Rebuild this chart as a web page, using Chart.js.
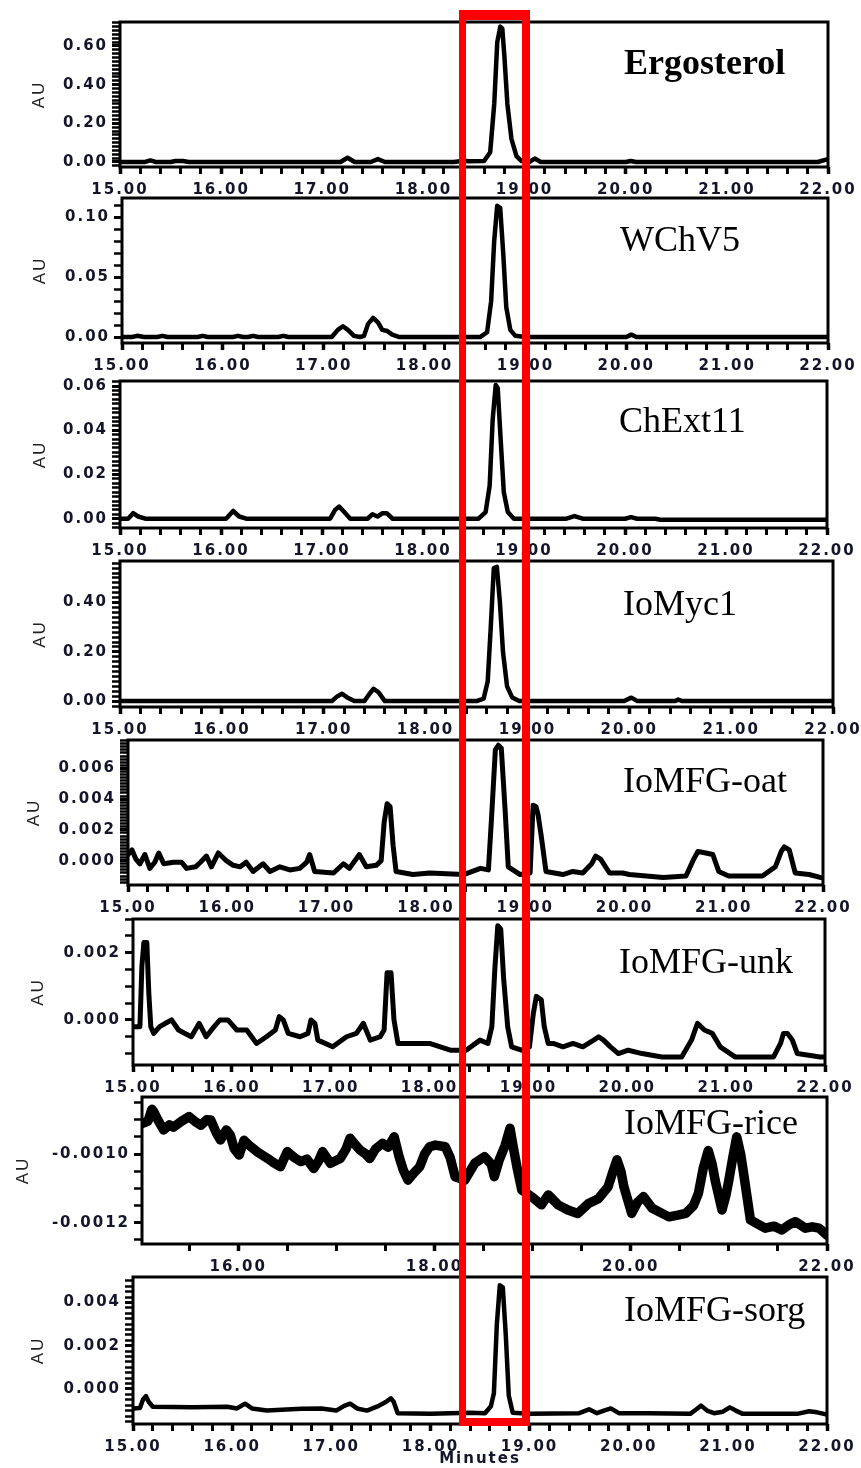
<!DOCTYPE html>
<html>
<head>
<meta charset="utf-8">
<script src="https://cdn.jsdelivr.net/npm/chart.js@4.4.1/dist/chart.umd.min.js"></script>
<style>
body { margin: 0; background: #fff; }
#wrap { position: relative; width: 861px; height: 1468px; overflow: hidden; background: #fff; }
#wrap canvas { position: absolute; left: 0; }
#box { position: absolute; left: 459px; top: 10px; width: 71px; height: 1416px; box-sizing: border-box;
  border: 8px solid #ff0000; border-top-width: 10px; border-left-width: 7px; z-index: 5; }
</style>
</head>
<body>
<div id="wrap"><div id="box"></div></div>
<script>
// retention time (min) / absorbance (AU)
const ergoT = [15.00, 15.25, 15.30, 15.35, 15.50, 15.55, 15.62, 15.68, 17.18, 17.25, 17.32, 17.48, 17.55, 17.62, 18.30, 18.40, 18.45, 18.60, 18.66, 18.70, 18.73, 18.76, 18.78, 18.80, 18.83, 18.87, 18.92, 18.97, 19.05, 19.10, 19.16, 19.25, 20.00, 20.05, 20.10, 21.90, 21.98, 22.00];
const ergoV = [0.000, 0.000, 0.008, 0.000, 0.000, 0.005, 0.005, 0.000, 0.000, 0.022, 0.000, 0.000, 0.015, 0.000, 0.000, 0.006, 0.004, 0.005, 0.05, 0.30, 0.62, 0.70, 0.69, 0.55, 0.30, 0.12, 0.03, 0.005, 0.000, 0.018, 0.000, 0.000, 0.000, 0.005, 0.000, 0.000, 0.012, 0.015];

const wchT = [15.00, 15.10, 15.15, 15.22, 15.35, 15.40, 15.45, 15.75, 15.80, 15.85, 16.10, 16.15, 16.20, 16.25, 16.30, 16.35, 16.55, 16.60, 16.65, 17.08, 17.14, 17.19, 17.24, 17.30, 17.36, 17.40, 17.44, 17.49, 17.54, 17.58, 17.63, 17.68, 17.75, 18.55, 18.62, 18.66, 18.69, 18.72, 18.75, 18.78, 18.81, 18.85, 18.90, 19.00, 20.00, 20.05, 20.10, 22.00];
const wchV = [0.000, 0.000, 0.001, 0.000, 0.000, 0.001, 0.000, 0.000, 0.001, 0.000, 0.000, 0.001, 0.000, 0.000, 0.001, 0.000, 0.000, 0.001, 0.000, 0.000, 0.006, 0.009, 0.006, 0.001, 0.000, 0.001, 0.011, 0.016, 0.012, 0.006, 0.005, 0.002, 0.000, 0.000, 0.004, 0.03, 0.08, 0.110, 0.108, 0.07, 0.025, 0.006, 0.001, 0.000, 0.000, 0.002, 0.000, 0.000];

const chextT = [15.00, 15.08, 15.13, 15.18, 15.25, 15.45, 15.90, 16.05, 16.12, 16.18, 16.25, 16.60, 16.70, 17.08, 17.13, 17.17, 17.22, 17.28, 17.45, 17.50, 17.55, 17.60, 17.64, 17.70, 18.55, 18.62, 18.66, 18.69, 18.72, 18.74, 18.77, 18.80, 18.84, 18.90, 19.00, 19.42, 19.50, 19.58, 20.00, 20.06, 20.12, 20.30, 20.35, 22.00];
const chextV = [0.000, 0.000, 0.0025, 0.001, 0.000, 0.000, 0.000, 0.000, 0.0035, 0.001, 0.000, 0.000, 0.000, 0.000, 0.004, 0.0055, 0.003, 0.000, 0.000, 0.002, 0.001, 0.0025, 0.0025, 0.000, 0.000, 0.003, 0.015, 0.045, 0.0605, 0.059, 0.035, 0.012, 0.003, 0.000, 0.000, 0.000, 0.0012, 0.000, 0.000, 0.0007, 0.000, 0.000, -0.0005, -0.0005];

const mycT = [15.00, 17.08, 17.13, 17.18, 17.23, 17.30, 17.40, 17.45, 17.49, 17.54, 17.60, 18.50, 18.57, 18.61, 18.64, 18.67, 18.70, 18.73, 18.76, 18.80, 18.85, 18.92, 19.95, 20.02, 20.08, 20.45, 20.48, 20.52, 22.00];
const mycV = [0.000, 0.000, 0.018, 0.030, 0.015, 0.000, 0.000, 0.030, 0.050, 0.035, 0.000, 0.000, 0.010, 0.080, 0.300, 0.540, 0.545, 0.40, 0.20, 0.06, 0.015, 0.000, 0.000, 0.014, 0.000, 0.000, 0.006, 0.000, 0.000];

const oatT = [15.00, 15.04, 15.08, 15.12, 15.17, 15.22, 15.27, 15.31, 15.36, 15.46, 15.54, 15.59, 15.68, 15.73, 15.79, 15.84, 15.91, 15.99, 16.06, 16.13, 16.19, 16.26, 16.36, 16.43, 16.53, 16.63, 16.73, 16.80, 16.83, 16.88, 17.07, 17.17, 17.23, 17.33, 17.40, 17.50, 17.55, 17.58, 17.61, 17.64, 17.67, 17.70, 17.87, 18.04, 18.38, 18.55, 18.63, 18.66, 18.70, 18.73, 18.76, 18.80, 18.83, 18.95, 19.05, 19.08, 19.11, 19.13, 19.16, 19.21, 19.38, 19.48, 19.58, 19.67, 19.71, 19.76, 19.85, 19.98, 20.05, 20.39, 20.62, 20.69, 20.74, 20.82, 20.89, 20.95, 21.05, 21.39, 21.52, 21.58, 21.61, 21.66, 21.72, 21.86, 21.98];
const oatV = [0.0004, 0.0007, 0.0001, -0.0002, 0.0004, -0.0005, -0.0001, 0.0005, -0.0002, -0.0001, -0.0001, -0.0005, -0.0004, -0.0001, 0.0003, -0.0004, 0.0005, 0.0000, -0.0003, -0.0004, -0.0001, -0.0007, -0.0002, -0.0007, -0.0004, -0.0006, -0.0005, -0.0001, 0.0004, -0.0007, -0.0008, -0.0002, -0.0005, 0.0004, -0.0004, -0.0003, 0.0000, 0.0025, 0.0037, 0.0035, 0.0010, -0.0007, -0.0009, -0.0008, -0.0009, -0.0005, -0.0006, 0.0026, 0.0072, 0.0075, 0.0073, 0.0031, -0.0004, -0.0009, -0.0008, 0.0036, 0.0035, 0.0030, 0.0017, -0.0007, -0.0009, -0.0007, -0.0008, -0.0002, 0.0003, 0.0001, -0.0008, -0.0008, -0.0009, -0.0011, -0.0010, 0.0000, 0.0006, 0.0005, 0.0004, -0.0007, -0.0010, -0.0010, -0.0004, 0.0006, 0.0009, 0.0007, -0.0008, -0.0009, -0.0011];

const unkT = [15.00, 15.07, 15.09, 15.11, 15.14, 15.16, 15.18, 15.21, 15.27, 15.33, 15.39, 15.46, 15.59, 15.67, 15.74, 15.82, 15.88, 15.96, 16.05, 16.15, 16.25, 16.35, 16.44, 16.48, 16.52, 16.57, 16.69, 16.77, 16.80, 16.84, 16.87, 17.02, 17.16, 17.26, 17.33, 17.40, 17.50, 17.54, 17.57, 17.61, 17.64, 17.68, 17.83, 18.00, 18.21, 18.37, 18.51, 18.59, 18.63, 18.66, 18.69, 18.72, 18.75, 18.79, 18.83, 18.93, 19.01, 19.05, 19.08, 19.13, 19.16, 19.20, 19.25, 19.35, 19.45, 19.55, 19.66, 19.71, 19.76, 19.83, 19.91, 20.01, 20.15, 20.35, 20.55, 20.65, 20.71, 20.78, 20.86, 20.94, 21.09, 21.48, 21.55, 21.58, 21.62, 21.67, 21.72, 21.95, 22.00];
const unkV = [-0.0002, -0.0002, 0.0016, 0.0023, 0.0023, 0.0008, -0.0002, -0.0004, -0.0002, -0.0001, 0.0000, -0.0003, -0.0005, -0.0001, -0.0005, -0.0002, 0.0000, 0.0000, -0.0003, -0.0003, -0.0007, -0.0005, -0.0003, 0.0001, 0.0000, -0.0004, -0.0005, -0.0004, 0.0000, -0.0001, -0.0006, -0.0008, -0.0005, -0.0004, -0.0001, -0.0006, -0.0005, -0.0003, 0.0014, 0.0014, 0.0000, -0.0007, -0.0007, -0.0007, -0.0009, -0.0009, -0.0006, -0.0007, -0.0002, 0.0015, 0.0028, 0.0027, 0.0012, -0.0002, -0.0008, -0.0009, -0.0008, 0.0002, 0.0007, 0.0006, -0.0002, -0.0007, -0.0007, -0.0008, -0.0007, -0.0008, -0.0006, -0.0005, -0.0006, -0.0008, -0.0010, -0.0009, -0.0010, -0.0011, -0.0011, -0.0006, -0.0001, -0.0003, -0.0004, -0.0008, -0.0011, -0.0011, -0.0007, -0.0004, -0.0004, -0.0006, -0.0010, -0.0011, -0.0011];

const riceT = [15.02, 15.08, 15.12, 15.14, 15.18, 15.24, 15.30, 15.34, 15.42, 15.50, 15.56, 15.62, 15.68, 15.72, 15.78, 15.82, 15.88, 15.92, 15.96, 16.01, 16.06, 16.11, 16.20, 16.30, 16.36, 16.43, 16.50, 16.57, 16.64, 16.70, 16.77, 16.82, 16.86, 16.94, 17.04, 17.10, 17.14, 17.20, 17.24, 17.30, 17.34, 17.40, 17.47, 17.53, 17.59, 17.64, 17.68, 17.73, 17.79, 17.85, 17.90, 17.95, 18.01, 18.11, 18.16, 18.21, 18.31, 18.41, 18.51, 18.58, 18.61, 18.66, 18.72, 18.77, 18.80, 18.84, 18.89, 18.99, 19.09, 19.16, 19.26, 19.36, 19.46, 19.57, 19.67, 19.77, 19.82, 19.86, 19.90, 19.93, 20.01, 20.07, 20.13, 20.22, 20.30, 20.39, 20.48, 20.56, 20.64, 20.69, 20.74, 20.79, 20.83, 20.86, 20.93, 20.97, 21.00, 21.04, 21.08, 21.12, 21.15, 21.22, 21.30, 21.37, 21.46, 21.54, 21.62, 21.68, 21.78, 21.85, 21.92, 22.00];
const riceV = [-0.000911, -0.000905, -0.000870, -0.000877, -0.000900, -0.000930, -0.000915, -0.000922, -0.000905, -0.000891, -0.000905, -0.000916, -0.000900, -0.000901, -0.000940, -0.000959, -0.000930, -0.000945, -0.000985, -0.001003, -0.000960, -0.000974, -0.000995, -0.001013, -0.001025, -0.001037, -0.000993, -0.001010, -0.001022, -0.001015, -0.001042, -0.001020, -0.000993, -0.001027, -0.001013, -0.000985, -0.000954, -0.000975, -0.000988, -0.001000, -0.001013, -0.000985, -0.000969, -0.000980, -0.000950, -0.001008, -0.001045, -0.001076, -0.001055, -0.001037, -0.001000, -0.000979, -0.000974, -0.000979, -0.001010, -0.001066, -0.001076, -0.001027, -0.001008, -0.001030, -0.001066, -0.001017, -0.000975, -0.000925, -0.000975, -0.001037, -0.001105, -0.001124, -0.001148, -0.001119, -0.001148, -0.001163, -0.001173, -0.001144, -0.001130, -0.001095, -0.001050, -0.001017, -0.001050, -0.001095, -0.001173, -0.001140, -0.001124, -0.001158, -0.001170, -0.001183, -0.001178, -0.001173, -0.001150, -0.001114, -0.001040, -0.000990, -0.001030, -0.001076, -0.001163, -0.001120, -0.001076, -0.001010, -0.000950, -0.001000, -0.001056, -0.001192, -0.001205, -0.001216, -0.001210, -0.001221, -0.001205, -0.001197, -0.001216, -0.001212, -0.001216, -0.001236];

const sorgT = [15.00, 15.07, 15.10, 15.13, 15.16, 15.20, 15.60, 15.95, 16.05, 16.13, 16.20, 16.35, 16.70, 16.90, 17.05, 17.13, 17.19, 17.26, 17.36, 17.46, 17.55, 17.60, 17.63, 17.67, 18.00, 18.40, 18.55, 18.61, 18.64, 18.67, 18.70, 18.73, 18.76, 18.79, 18.83, 19.00, 19.50, 19.60, 19.68, 19.75, 19.82, 19.90, 20.20, 20.62, 20.68, 20.73, 20.79, 20.86, 20.95, 21.02, 21.08, 21.15, 21.70, 21.82, 21.90, 22.00];
const sorgV = [-0.00090, -0.00088, -0.00050, -0.00033, -0.00060, -0.00082, -0.00085, -0.00082, -0.00090, -0.00068, -0.00090, -0.00100, -0.00092, -0.00090, -0.00100, -0.00078, -0.00068, -0.00090, -0.00100, -0.00082, -0.00060, -0.00043, -0.00060, -0.00112, -0.00115, -0.00110, -0.00112, -0.00080, -0.00020, 0.00300, 0.00480, 0.00470, 0.00250, -0.00030, -0.00110, -0.00115, -0.00112, -0.00094, -0.00112, -0.00100, -0.00090, -0.00112, -0.00112, -0.00115, -0.00095, -0.00077, -0.00100, -0.00112, -0.00105, -0.00085, -0.00100, -0.00115, -0.00115, -0.00103, -0.00108, -0.00118];

// layout: frame [left, top, right, bottom] in page px, y [min, max, step, major, decimals], x [min, max, step, major]
const panels = [
  { name: 'Ergosterol', bold: true, t: ergoT, v: ergoV, frame: [120, 22, 828, 167], y: [-0.026, 0.724, 0.02, 0.2, 2], x: [15, 22, 0.2, 1], au: 39, at: [624, 74], lw: 4.5 },
  { name: 'WChV5', t: wchT, v: wchV, frame: [122, 198, 828, 343], y: [-0.005, 0.1164, 0.01, 0.05, 2], x: [15, 22, 0.2, 1], au: 40, at: [620, 251], lw: 4.5 },
  { name: 'ChExt11', t: chextT, v: chextV, frame: [120, 381, 827, 528], y: [-0.0042, 0.0623, 0.002, 0.02, 2], x: [15, 22, 0.2, 1], au: 40, at: [619, 432], lw: 4.5 },
  { name: 'IoMyc1', t: mycT, v: mycV, frame: [120, 561, 833, 707], y: [-0.024, 0.569, 0.02, 0.2, 2], x: [15, 22, 0.2, 1], au: 40, at: [623, 615], lw: 4.5 },
  { name: 'IoMFG-oat', t: oatT, v: oatV, frame: [128, 740, 823, 885], y: [-0.00158, 0.00784, 0.0002, 0.002, 3], x: [15, 22, 0.2, 1], au: 34, at: [623, 792], lw: 5 },
  { name: 'IoMFG-unk', t: unkT, v: unkV, frame: [133, 919, 825, 1065], y: [-0.00134, 0.0030, 0.0005, 0.002, 3], x: [15, 22, 0.2, 1], au: 38, at: [619, 973], lw: 5 },
  { name: 'IoMFG-rice', t: riceT, v: riceV, frame: [142, 1097, 827, 1244], y: [-0.001262, -0.000834, 0.00005, 0.0002, 4], x: [15.02, 22, 0.5, 2], au: 23, at: [624, 1134], lw: 9.5 },
  { name: 'IoMFG-sorg', t: sorgT, v: sorgV, frame: [133, 1277, 827, 1424], y: [-0.00162, 0.00518, 0.00025, 0.002, 3], x: [15, 22, 0.2, 1], au: 38, at: [624, 1321], lw: 4.5, last: true }
];

const inkColor = '#14142a';
const tickFont = { family: 'DejaVu Sans', size: 15, weight: 'bold', lineHeight: 1.2 };

const isMajor = (v, major) => {
  const r = v / major;
  return Math.abs(r - Math.round(r)) < 1e-6;
};
const fmt = (major, dec) => function (v) {
  if (!isMajor(v, major)) return '';
  return (Math.abs(v) < 1e-12 ? 0 : v).toFixed(dec);
};

const spacing = {
  id: 'spacing',
  beforeLayout(c) { c.ctx.letterSpacing = '2px'; },
  beforeDraw(c) { c.ctx.letterSpacing = '2px'; }
};
const frame = {
  id: 'frame',
  afterDatasetsDraw(c) {
    const a = c.chartArea, ctx = c.ctx;
    ctx.save();
    ctx.strokeStyle = '#000';
    ctx.lineWidth = 3;
    ctx.strokeRect(a.left, a.top, a.right - a.left, a.bottom - a.top);
    ctx.restore();
  }
};
const nameTag = {
  id: 'nameTag',
  afterDraw(c, args, o) {
    const ctx = c.ctx;
    ctx.save();
    ctx.letterSpacing = '0px';
    ctx.font = (o.bold ? 'bold ' : '') + '36px "Liberation Serif", "Times New Roman", serif';
    ctx.fillStyle = '#000';
    ctx.textAlign = 'left';
    ctx.textBaseline = 'alphabetic';
    ctx.fillText(o.text, o.x, o.y);
    ctx.restore();
  }
};

const wrap = document.getElementById('wrap');
const box = document.getElementById('box');

panels.forEach((p) => {
  const [L, T, R, B] = p.frame;
  const top = T - 12;
  const xh = p.last ? 1468 - B : 36;
  const h = 12 + (B - T) + xh;
  const padLeft = p.au - 10;

  const cv = document.createElement('canvas');
  cv.width = 861;
  cv.height = h;
  cv.style.top = top + 'px';
  wrap.insertBefore(cv, box);

  new Chart(cv, {
    type: 'line',
    data: {
      datasets: [{
        data: p.t.map((t, i) => ({ x: t, y: p.v[i] })),
        borderColor: '#000',
        borderWidth: p.lw,
        pointRadius: 0,
        tension: 0,
        borderJoinStyle: 'round',
        borderCapStyle: 'round',
        fill: false
      }]
    },
    options: {
      responsive: false,
      animation: false,
      devicePixelRatio: 1,
      layout: { padding: { left: padLeft, right: 861 - R, top: 12, bottom: 0 } },
      plugins: {
        legend: { display: false },
        tooltip: { enabled: false },
        nameTag: { text: p.name, bold: !!p.bold, x: p.at[0], y: p.at[1] - top }
      },
      scales: {
        x: {
          type: 'linear',
          min: p.x[0],
          max: p.x[1],
          border: { display: false },
          grid: {
            drawOnChartArea: false,
            tickLength: 7,
            tickColor: '#000',
            tickWidth: (ctx) => (ctx.tick && isMajor(ctx.tick.value, p.x[3]) ? 3.5 : 3)
          },
          ticks: {
            stepSize: p.x[2],
            autoSkip: false,
            includeBounds: false,
            maxRotation: 0,
            padding: 7,
            color: inkColor,
            font: tickFont,
            callback: fmt(p.x[3], 2)
          },
          title: p.last
            ? { display: true, text: 'Minutes', padding: 0, color: inkColor, font: { family: 'DejaVu Sans', size: 15, weight: 'bold' } }
            : { display: false },
          afterFit: (s) => { s.height = xh; s.paddingLeft = 0; s.paddingRight = 0; }
        },
        y: {
          min: p.y[0],
          max: p.y[1],
          border: { display: false },
          grid: {
            drawOnChartArea: false,
            tickLength: 8,
            tickColor: '#000',
            tickWidth: (ctx) => (ctx.tick && isMajor(ctx.tick.value, p.y[3]) ? 3 : 2.5)
          },
          ticks: {
            stepSize: p.y[2],
            autoSkip: false,
            includeBounds: false,
            padding: 4,
            color: inkColor,
            font: tickFont,
            callback: fmt(p.y[3], p.y[4])
          },
          title: { display: true, text: 'AU', padding: 0, color: '#222', font: { family: 'Liberation Sans', size: 17 } },
          afterFit: (s) => { s.width = L - padLeft; s.paddingTop = 0; s.paddingBottom = 0; }
        }
      }
    },
    plugins: [spacing, frame, nameTag]
  });
});
</script>
</body>
</html>
